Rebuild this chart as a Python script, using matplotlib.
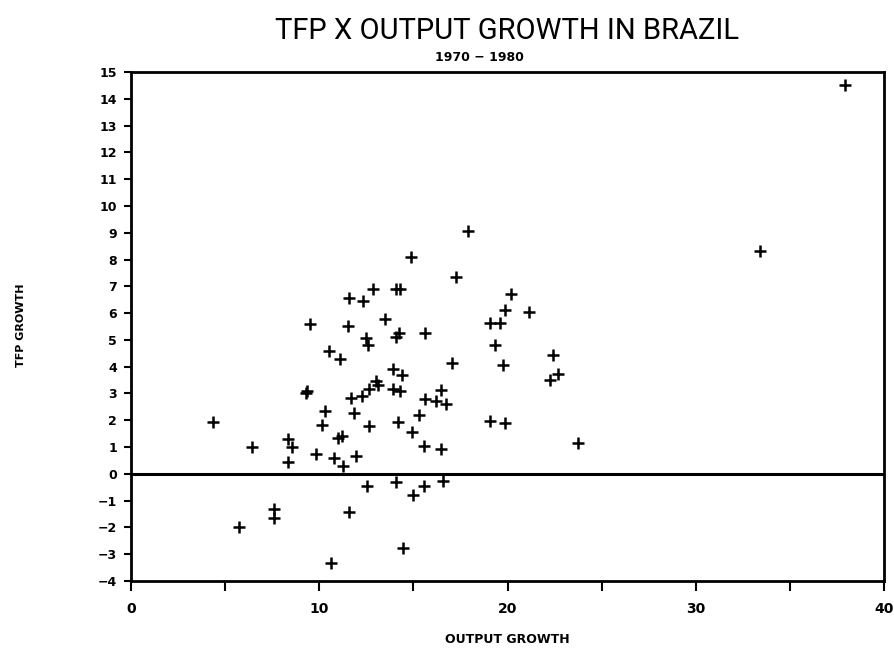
import matplotlib
matplotlib.use("Agg")
import matplotlib.pyplot as plt
import numpy as np

# output growth (x) and TFP growth (y), 1970-1980
output_growth = [
    9.50, 11.53, 13.48, 19.06, 19.59, 12.47, 12.60, 14.10, 14.24, 15.64,
    19.36, 10.51, 11.09, 17.05, 19.76, 13.92, 14.42, 13.04, 13.13, 12.65,
    13.92, 14.28, 16.49, 9.30, 9.36, 11.71, 12.25, 15.64, 16.19, 16.72,
    10.30, 11.85, 15.30, 4.37, 10.12, 12.63, 14.16, 19.06, 19.89, 14.90,
    11.00, 11.22, 8.32, 8.56, 6.41, 15.54, 16.49, 9.80, 10.79, 11.93,
    8.32, 11.27, 12.54, 14.10, 14.98, 15.59, 16.58, 7.59, 7.59, 11.57,
    5.75, 14.45, 10.60, 17.90, 14.86, 17.25, 11.57, 12.30, 12.83, 14.07,
    14.28, 19.85, 20.21, 21.14, 37.93, 33.39, 22.41, 22.68, 22.28, 23.76,
]
tfp_growth = [
    5.60, 5.52, 5.77, 5.62, 5.64, 5.07, 4.81, 5.11, 5.24, 5.25,
    4.80, 4.59, 4.27, 4.14, 4.05, 3.90, 3.69, 3.45, 3.30, 3.18,
    3.17, 3.11, 3.14, 3.03, 3.10, 2.82, 2.90, 2.80, 2.71, 2.62,
    2.33, 2.28, 2.19, 1.92, 1.81, 1.80, 1.92, 1.99, 1.89, 1.56,
    1.32, 1.41, 1.29, 1.01, 1.00, 1.05, 0.92, 0.73, 0.58, 0.68,
    0.45, 0.29, -0.45, -0.30, -0.79, -0.45, -0.27, -1.31, -1.65, -1.42,
    -1.97, -2.75, -3.31, 9.06, 8.11, 7.36, 6.58, 6.45, 6.91, 6.90,
    6.90, 6.12, 6.70, 6.04, 14.51, 8.33, 4.44, 3.74, 3.52, 1.15,
]

x_ticks = [0, 10, 20, 30, 40]
y_ticks = list(range(-4, 16))

fig = plt.figure(figsize=(8.95, 6.56), dpi=100)
ax = fig.add_axes([0.1464, 0.1143, 0.8413, 0.776])

ax.plot(output_growth, tfp_growth, '+', color='black', markersize=8.5, mew=1.8)
ax.axhline(0, color='black', lw=2.2)

ax.set_xlim(0, 40)
ax.set_ylim(-4, 15)
ax.set_xticks(np.arange(0, 41, 5), minor=True)
ax.set_xticks(x_ticks)
ax.set_yticks(y_ticks)
ax.set_yticklabels([str(v).replace('-', '\u2212') for v in y_ticks])
ax.tick_params(axis='both', which='both', direction='out', width=1.5,
               colors='black')
ax.tick_params(axis='y', length=5, pad=5, labelsize=9)
ax.tick_params(axis='x', which='both', length=7, pad=8, labelsize=10)
for lab in ax.get_xticklabels() + ax.get_yticklabels():
    lab.set_fontweight('bold')
for s in ax.spines.values():
    s.set_linewidth(2)

fig.text(0.567, 0.953, 'TFP X OUTPUT GROWTH IN BRAZIL', ha='center',
         va='center', fontsize=21, family='Roboto', color='black')
fig.text(0.536, 0.912, '1970 \u2212 1980', ha='center', va='center',
         fontsize=9, fontweight='bold')
ax.set_xlabel('OUTPUT GROWTH', fontsize=9, fontweight='bold', labelpad=12)
fig.text(0.024, 0.504, 'TFP GROWTH', rotation=90, ha='center', va='center',
         fontsize=8, fontweight='bold')

fig.savefig('out.png', dpi=100)
